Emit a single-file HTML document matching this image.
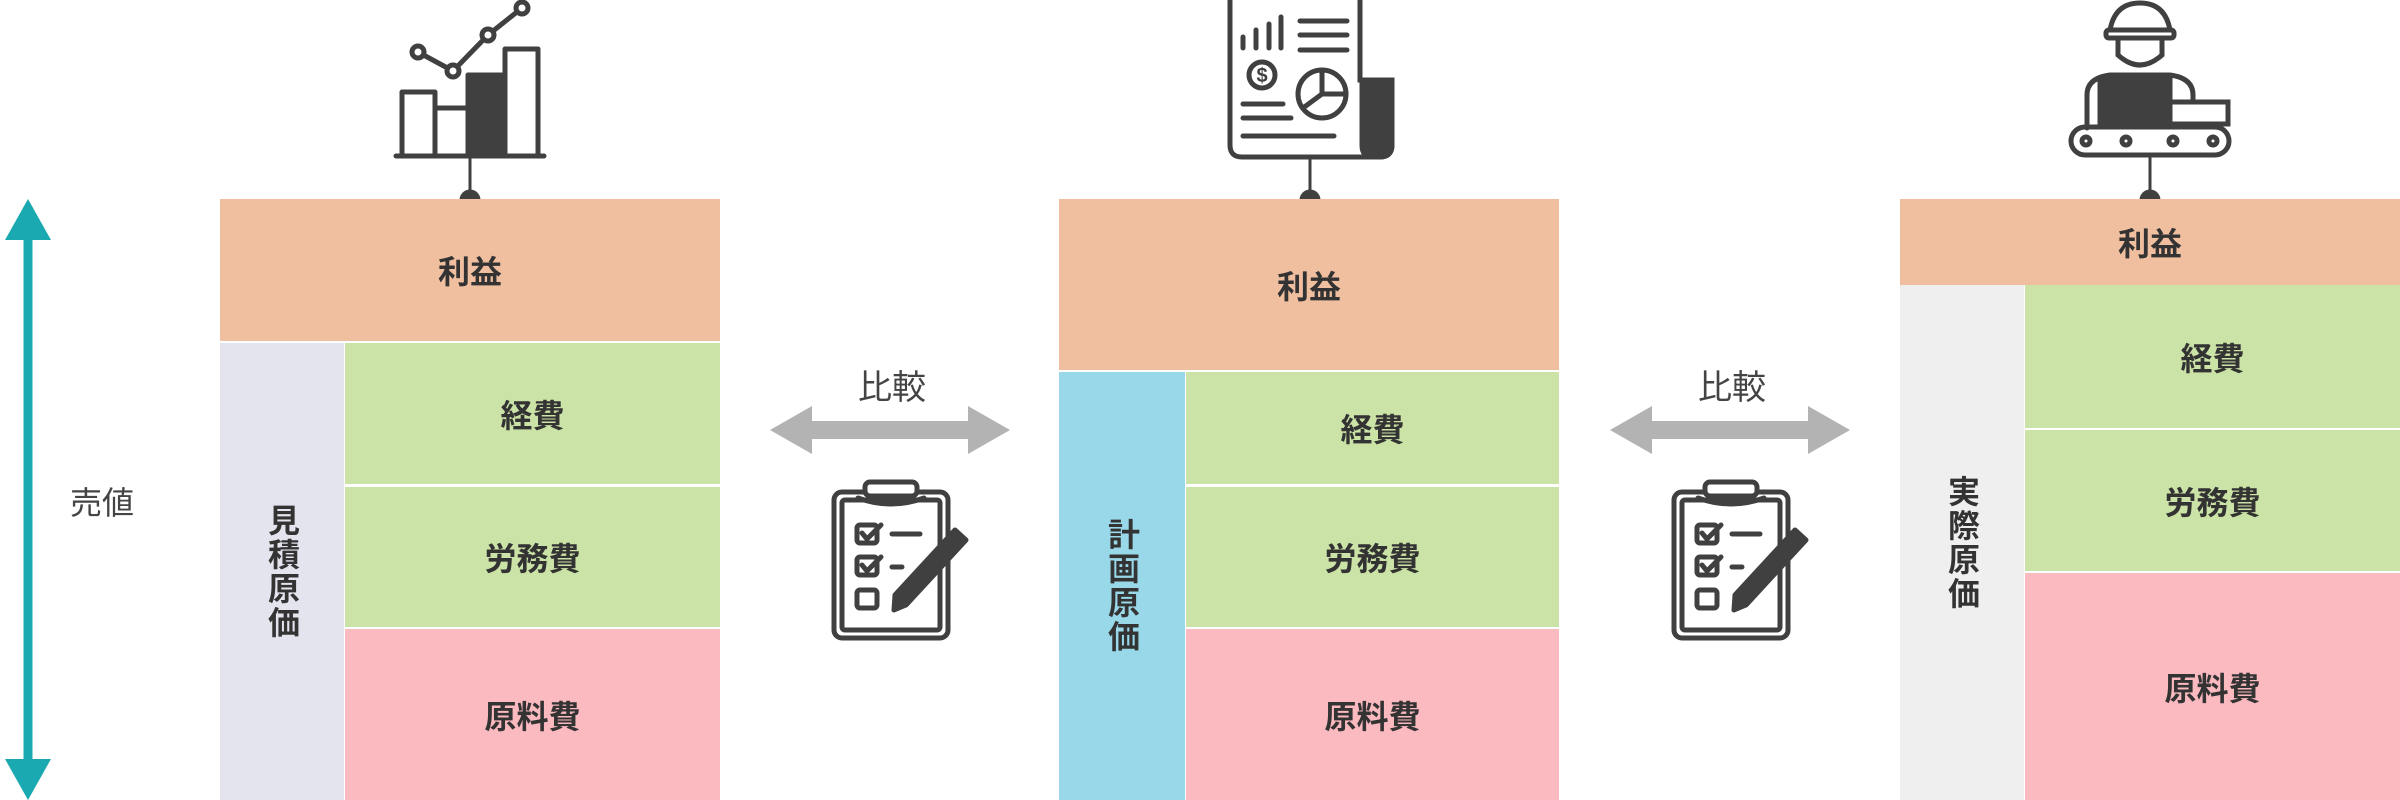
<!DOCTYPE html>
<html><head><meta charset="utf-8"><style>
body{margin:0;width:2400px;height:800px;background:#fff;position:relative;overflow:hidden;font-family:"Liberation Sans","Noto Sans CJK JP",sans-serif;color:#333}
.b{position:absolute;display:flex;align-items:center;justify-content:center;font-weight:bold;font-size:32px;box-sizing:border-box}
.p{background:#f0bf9f}.g{background:#cbe3a6}.r{background:#fbb9c0}
.v{writing-mode:vertical-rl;letter-spacing:2px}
.t{position:absolute;font-size:34px;font-weight:bold;color:#444}
</style></head><body>
<svg width="2400" height="800" style="position:absolute;left:0;top:0">
<!-- left teal arrow -->
<line x1="28" y1="225" x2="28" y2="775" stroke="#1aa9b0" stroke-width="9"/>
<polygon points="28,199 5,240 51,240" fill="#1aa9b0"/>
<polygon points="28,800 5,759 51,759" fill="#1aa9b0"/>
<!-- compare arrows -->
<g fill="#b3b3b3">
<polygon points="770,430 812,406 812,421 968,421 968,406 1010,430 968,454 968,439 812,439 812,454"/>
<polygon points="1610,430 1652,406 1652,421 1808,421 1808,406 1850,430 1808,454 1808,439 1652,439 1652,454"/>
</g>
<!-- connectors -->
<g stroke="#404040" stroke-width="3" fill="#404040">
<line x1="470" y1="157" x2="470" y2="200"/><circle cx="470" cy="200" r="9"/>
<line x1="1310" y1="157" x2="1310" y2="200"/><circle cx="1310" cy="200" r="9"/>
<line x1="2150" y1="157" x2="2150" y2="200"/><circle cx="2150" cy="200" r="9"/>
</g>
<!-- chart icon -->
<g stroke="#404040" stroke-width="5" fill="none" stroke-linejoin="round">
<line x1="396" y1="156" x2="544" y2="156" stroke-linecap="round"/>
<rect x="402" y="92" width="33" height="64"/>
<rect x="435" y="108" width="33" height="48"/>
<rect x="468" y="75" width="37" height="81" fill="#404040"/>
<rect x="505" y="49" width="33" height="107"/>
<polyline points="418,52 453,71 488,35 522,8"/>
<circle cx="418" cy="52" r="6" fill="#fff"/><circle cx="453" cy="71" r="6" fill="#fff"/><circle cx="488" cy="35" r="6" fill="#fff"/><circle cx="522" cy="8" r="6" fill="#fff"/>
</g>
<!-- document icon -->
<g stroke="#404040" stroke-width="5" fill="none" stroke-linecap="round">
<path d="M1230,0 V145 Q1230,157 1242,157 H1380 Q1392,157 1392,145 V80 H1360 V0"/>
<path d="M1362,80 H1392 V145 Q1392,157 1380,157 H1372 Q1362,157 1362,145 Z" fill="#404040"/>
<line x1="1243" y1="37" x2="1243" y2="48"/><line x1="1256" y1="30" x2="1256" y2="48"/><line x1="1269" y1="24" x2="1269" y2="48"/><line x1="1281" y1="17" x2="1281" y2="48"/>
<line x1="1300" y1="21" x2="1347" y2="21"/><line x1="1300" y1="35" x2="1347" y2="35"/><line x1="1300" y1="50" x2="1347" y2="50"/>
<circle cx="1262" cy="75" r="13"/>
<circle cx="1322" cy="94" r="24"/><polyline points="1322,70 1322,94 1303,108"/><line x1="1322" y1="94" x2="1346" y2="94"/>
<line x1="1243" y1="104" x2="1283" y2="104"/><line x1="1243" y1="118" x2="1291" y2="118"/><line x1="1243" y1="136" x2="1334" y2="136"/>
</g>
<text x="1262" y="82" font-size="20" font-weight="bold" fill="#404040" text-anchor="middle" font-family="Liberation Sans">$</text>
<!-- worker icon -->
<g stroke="#404040" stroke-width="5" fill="none" stroke-linecap="round">
<path d="M2110,30 Q2115,3 2140,3 Q2165,3 2170,30"/>
<rect x="2106" y="30" width="68" height="8" rx="3"/>
<path d="M2118,40 V55 Q2140,75 2162,55 V40"/>
<path d="M2087,128 V95 Q2087,78 2110,75 H2170 Q2193,78 2193,95 V102"/>
<rect x="2100" y="80" width="70" height="45" fill="#404040"/>
<rect x="2163" y="102" width="65" height="22"/>
<rect x="2071" y="127" width="158" height="28" rx="14"/>
<circle cx="2086" cy="141" r="4"/><circle cx="2126" cy="141" r="4"/><circle cx="2173" cy="141" r="4"/><circle cx="2213" cy="141" r="4"/>
</g>
<!-- clipboards -->
<g id="cb" stroke="#404040" stroke-width="5" fill="none" stroke-linecap="round" stroke-linejoin="round">
<rect x="834" y="492" width="114" height="146" rx="8"/>
<rect x="842" y="500" width="98" height="130" rx="3"/>
<rect x="865" y="482" width="52" height="14" rx="5" fill="#fff"/>
<path d="M858,498 Q891,510 924,498"/>
<rect x="857" y="525" width="20" height="18" rx="3"/><polyline points="862,533 867,539 881,525"/>
<rect x="857" y="557" width="20" height="18" rx="3"/><polyline points="862,565 867,571 881,557"/>
<rect x="857" y="590" width="20" height="18" rx="3"/>
<line x1="892" y1="534" x2="920" y2="534"/><line x1="892" y1="567" x2="902" y2="567"/>
<path d="M895,595 L955,530 L966,540 L906,605 L894,610 Z" fill="#404040"/>
</g>
<use href="#cb" x="840"/>
</svg>
<div class="t" style="left:70px;top:478px;font-weight:normal;font-size:32px">売値</div>
<div class="t" style="left:858px;top:360px;font-weight:normal">比較</div>
<div class="t" style="left:1698px;top:360px;font-weight:normal">比較</div>

<!-- column 1 -->
<div class="b p" style="left:220px;top:199px;width:500px;height:142px">利益</div>
<div class="b v" style="left:220px;top:343px;width:124px;height:457px;background:#e4e4ef">見積原価</div>
<div class="b g" style="left:345px;top:343px;width:375px;height:141px">経費</div>
<div class="b g" style="left:345px;top:487px;width:375px;height:140px">労務費</div>
<div class="b r" style="left:345px;top:629px;width:375px;height:171px">原料費</div>
<!-- column 2 -->
<div class="b p" style="left:1059px;top:199px;width:500px;height:171px">利益</div>
<div class="b v" style="left:1059px;top:372px;width:126px;height:428px;background:#99d8e8">計画原価</div>
<div class="b g" style="left:1186px;top:372px;width:373px;height:112px">経費</div>
<div class="b g" style="left:1186px;top:487px;width:373px;height:140px">労務費</div>
<div class="b r" style="left:1186px;top:629px;width:373px;height:171px">原料費</div>
<!-- column 3 -->
<div class="b p" style="left:1900px;top:199px;width:500px;height:86px">利益</div>
<div class="b v" style="left:1900px;top:285px;width:124px;height:515px;background:#efefef">実際原価</div>
<div class="b g" style="left:2025px;top:285px;width:375px;height:143px">経費</div>
<div class="b g" style="left:2025px;top:430px;width:375px;height:141px">労務費</div>
<div class="b r" style="left:2025px;top:573px;width:375px;height:227px">原料費</div>
</body></html>
